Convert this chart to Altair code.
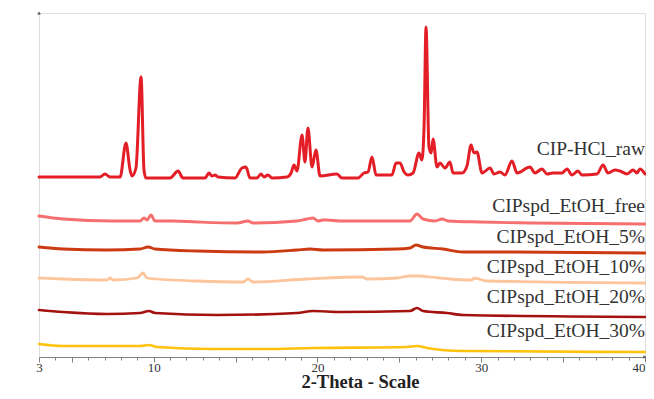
import altair as alt
import pandas as pd

# ---------------- data ----------------
names = ["CIP-HCl_raw", "CIPspd_EtOH_free", "CIPspd_EtOH_5%",
         "CIPspd_EtOH_10%", "CIPspd_EtOH_20%", "CIPspd_EtOH_30%"]

raw_theta = [3.0, 6.72, 7.03, 7.34, 7.95, 8.31, 8.56, 8.68, 8.92, 9.23, 9.41, 9.53,
             11.0, 11.49, 11.79, 13.14, 13.38, 13.56, 13.75, 13.93, 14.97, 15.39, 15.64,
             15.88, 16.31, 16.55, 16.74, 16.98, 17.23, 18.14, 18.39, 18.57, 18.75, 19.06,
             19.24, 19.42, 19.67, 19.91, 20.16, 21.19, 21.50, 22.48, 22.84, 23.09, 23.33,
             23.58, 24.55, 24.80, 25.04, 25.29, 25.53, 25.84, 26.20, 26.38, 26.51, 26.63,
             26.81, 26.94, 27.06, 27.30, 27.48, 27.79, 28.09, 28.28, 28.83, 29.13, 29.38,
             29.56, 29.74, 30.05, 30.54, 30.78, 31.15, 31.45, 31.88, 32.19, 32.98, 33.28,
             33.71, 34.02, 34.38, 34.93, 35.24, 35.54, 35.91, 36.15, 37.07, 37.44, 37.74,
             38.17, 38.47, 38.90, 39.27, 39.51, 39.69, 40.0]
raw_int = [180, 180, 183, 180, 180, 214, 187, 181, 189, 280, 187, 179,
           179, 186, 179, 179, 184, 181, 182, 180, 179, 189, 190,
           179, 179, 183, 180, 182, 179, 180, 184, 192, 186, 222,
           195, 229, 190, 207, 181, 183, 179, 179, 184, 185, 200,
           182, 182, 194, 194, 185, 182, 184, 204, 197, 230, 330,
           210, 204, 218, 190, 194, 189, 195, 184, 184, 191, 212,
           204, 205, 184, 189, 183, 185, 182, 196, 184, 190, 184,
           188, 183, 184, 184, 188, 182, 186, 182, 183, 192, 184,
           187, 186, 183, 187, 184, 188, 183]

free_theta = [3.0, 4.47, 7.52, 9.17, 9.41, 9.59, 9.84, 10.08, 11.18, 12.65, 15.09,
              15.76, 16.07, 18.75, 19.36, 19.73, 20.04, 20.34, 20.58, 21.38, 25.65,
              26.08, 26.45, 27.18, 27.61, 27.97, 29.93, 32.98, 40.0]
free_int = [141, 138, 136, 136, 139, 137, 142, 136, 136, 135, 134,
            136, 134, 136, 138, 139, 136, 137, 137, 136, 136,
            143, 138, 136, 138, 136, 135, 134, 133]

p5_theta = [3.0, 4.47, 7.15, 9.17, 9.66, 10.08, 12.65, 16.68, 18.75, 19.55, 20.34,
            24.86, 25.65, 26.02, 26.45, 27.67, 28.89, 31.15, 40.0]
p5_int = [110, 108, 107, 108, 110, 108, 106, 105, 107, 108, 107,
          108, 109, 112, 110, 108, 105, 105, 104]

p10_theta = [3.0, 4.47, 7.15, 7.34, 7.52, 8.98, 9.35, 9.59, 10.20, 12.65, 15.46,
             15.76, 16.07, 19.36, 22.72, 23.03, 24.86, 25.65, 26.26, 26.87, 28.09,
             29.44, 29.56, 30.35, 40.0]
p10_int = [79, 78, 77, 79, 77, 79, 84, 79, 78, 76, 75,
           78, 75, 78, 80, 78, 79, 81, 81, 80, 78,
           77, 79, 76, 74]

p20_theta = [3.0, 4.47, 7.15, 9.17, 9.72, 10.08, 13.87, 18.75, 19.73, 21.38, 25.65,
             26.08, 26.45, 27.91, 28.89, 40.0]
p20_int = [47, 45, 43, 44, 46, 44, 42, 44, 46, 45, 46,
           49, 46, 44, 42, 40]

p30_theta = [3.0, 4.47, 9.17, 9.72, 10.20, 13.62, 16.68, 19.73, 25.47, 26.08, 26.69,
             28.89, 40.0]
p30_int = [13, 11, 11, 12, 10, 8, 8, 9, 10, 11, 9, 6, 5]

label_int = [202, 145, 114, 84, 54, 20]

x_label_values = [3, 10, 20, 30, 40]

# ---------------- style ----------------
colors = ["#e31e26", "#f66f6f", "#cc3a12", "#fdc59c", "#a3120f", "#ffc20e"]
widths = [3.0, 2.6, 2.6, 2.6, 2.6, 2.6]
FONT = "Liberation Serif"
AXIS_GRAY = "#808080"

series = [(names[0], raw_theta, raw_int), (names[1], free_theta, free_int),
          (names[2], p5_theta, p5_int), (names[3], p10_theta, p10_int),
          (names[4], p20_theta, p20_int), (names[5], p30_theta, p30_int)]
rows = []
for nm, xs, ys in series:
    for xv, yv in zip(xs, ys):
        rows.append({"series": nm, "theta": xv, "value": yv})
df = pd.DataFrame(rows)

labels_df = pd.DataFrame({"series": names, "theta": [40.0] * len(names), "value": label_int})

minor_df = pd.DataFrame({"theta": list(range(4, 40))})

arrow_df = pd.DataFrame({"theta": [3.0, 40.0], "value": [344, 0],
                         "shape": ["triangle-up", "triangle-right"]})

x_scale = alt.Scale(domain=[3, 40], nice=False, zero=False)
y_scale = alt.Scale(domain=[0, 344], nice=False, zero=False)

label_expr = "indexof([" + ",".join(str(v) for v in x_label_values) + "], datum.value) >= 0 ? datum.label : ''"

lines = alt.Chart(df).mark_line(interpolate="monotone", strokeJoin="round", strokeCap="round").encode(
    x=alt.X("theta:Q", scale=x_scale,
            axis=alt.Axis(values=[3, 5, 10, 15, 20, 25, 30, 35, 40], labelExpr=label_expr,
                          tickSize=5, labelPadding=-1, labelFlush=False,
                          labelAlign=alt.ExprRef(expr="datum.value == 40 ? 'right' : 'center'"),
                          labelFont=FONT, labelFontSize=13, labelColor="#333333",
                          tickColor=AXIS_GRAY, domainColor=AXIS_GRAY, grid=False,
                          orient="bottom",
                          title="2-Theta - Scale", titleFont=FONT, titleFontSize=18.5,
                          titleFontWeight="bold", titleColor="#222222",
                          titleX=321, titleY=30, titleAlign="center",
                          titleBaseline="alphabetic")),
    y=alt.Y("value:Q", scale=y_scale,
            axis=alt.Axis(ticks=False, labels=False, grid=False, domainColor=AXIS_GRAY,
                          title="Relative intensity (%)", titleFont=FONT, titleFontSize=19,
                          titleFontWeight="bold", titleColor="#222222",
                          titleAngle=270, titleX=-12, titleY=189, titleAlign="center",
                          titleBaseline="alphabetic")),
    color=alt.Color("series:N", scale=alt.Scale(domain=names, range=colors), legend=None),
    strokeWidth=alt.StrokeWidth("series:N", scale=alt.Scale(domain=names, range=widths), legend=None),
)

minor = alt.Chart(minor_df).mark_point(opacity=0).encode(
    x=alt.X("theta:Q", scale=x_scale,
            axis=alt.Axis(values=list(range(4, 40)), labels=False, tickSize=3,
                          tickColor=AXIS_GRAY, domain=False, grid=False, title=None,
                          orient="bottom")),
    y=alt.value(0),
)

labels = alt.Chart(labels_df).mark_text(align="right", baseline="alphabetic", font=FONT,
                                        fontSize=19.5, color="#333333").encode(
    x=alt.X("theta:Q", scale=x_scale, axis=None),
    y=alt.Y("value:Q", scale=y_scale, axis=None),
    text="series:N",
)

arrows = alt.Chart(arrow_df).mark_point(filled=True, size=14, color="#555555", opacity=1).encode(
    x=alt.X("theta:Q", scale=x_scale, axis=None),
    y=alt.Y("value:Q", scale=y_scale, axis=None),
    shape=alt.Shape("shape:N", scale=None, legend=None),
)

chart = alt.layer(lines, minor, labels, arrows).resolve_axis(x="independent").properties(
    width=606, height=344,
    autosize=alt.AutoSizeParams(type="none"),
    padding={"left": 31, "top": 5, "right": 1, "bottom": 33},
).configure_view(stroke=None).configure(background="white")

chart.save("out.html", embed_options={"renderer": "svg", "actions": False})
